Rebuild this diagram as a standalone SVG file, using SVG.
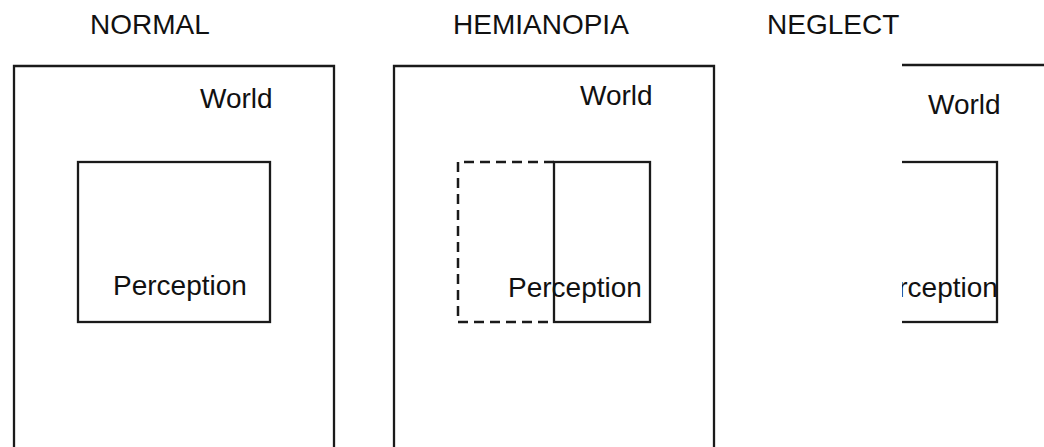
<svg xmlns="http://www.w3.org/2000/svg" width="1044" height="447" viewBox="0 0 1044 447">
<style>
text{font-family:"Liberation Sans",Arial,sans-serif;font-size:28px;fill:#111}
.b{fill:none;stroke:#1a1a1a;stroke-width:2.3}
.d{fill:none;stroke:#1a1a1a;stroke-width:2.5;stroke-dasharray:10 6}
</style>
<defs>
<clipPath id="negclip"><rect x="902" y="0" width="142" height="447"/></clipPath>
</defs>
<rect width="1044" height="447" fill="#fff"/>
<g id="titles">
<text x="90" y="34">NORMAL</text>
<text x="453" y="34">HEMIANOPIA</text>
<text x="767" y="34">NEGLECT</text>
</g>
<g id="normal">
<g id="normal-world">
<path class="b" d="M14,460 V66 H334 V460"/>
<text x="200" y="108">World</text>
</g>
<g id="normal-perception">
<rect class="b" x="78" y="162" width="192" height="160"/>
<text x="113" y="295">Perception</text>
</g>
</g>
<g id="hemianopia">
<g id="hemianopia-world">
<path class="b" d="M394,460 V66 H714 V460"/>
<text x="580" y="105">World</text>
</g>
<g id="hemianopia-perception">
<path class="d" d="M554,162 H458 V322 H554"/>
<rect class="b" x="554" y="162" width="96" height="160"/>
<text x="508" y="297">Perception</text>
</g>
</g>
<g id="neglect" clip-path="url(#negclip)">
<g id="neglect-world">
<path class="b" d="M774,460 V65 H1094 V460"/>
<text x="928" y="114">World</text>
</g>
<g id="neglect-perception">
<rect class="b" x="805" y="162" width="192" height="160"/>
<text x="864" y="297">Perception</text>
</g>
</g>
<g id="connectors"/>
</svg>
